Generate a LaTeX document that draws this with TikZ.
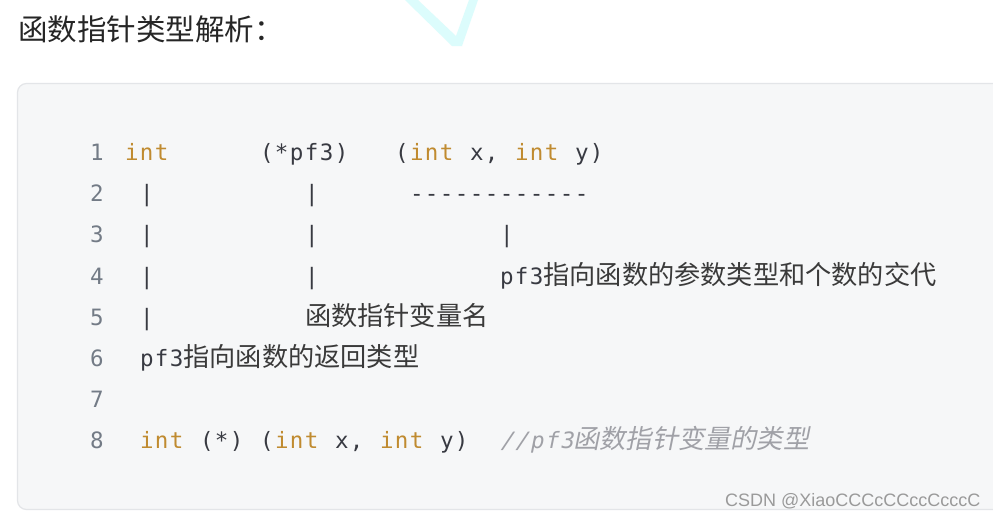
\documentclass[tikz,border=0pt]{standalone}
\usepackage{fontspec}
\setmainfont{Liberation Sans}
\newfontfamily\codefont{DejaVu Sans Mono}[LetterSpace=6.4,Ligatures=TeXOff]
\newfontfamily\numfont{DejaVu Sans Mono}[Ligatures=TeXOff]
\newfontfamily\codeit{DejaVu Sans Mono}[FakeSlant=0.2,LetterSpace=6.4,Ligatures=TeXOff]
\newfontfamily\cjk{Noto Sans CJK SC}
\newfontfamily\cjkit{Noto Sans CJK SC}[FakeSlant=0.2]
\definecolor{kwcol}{HTML}{C08B30}
\definecolor{txtcol}{HTML}{383A42}
\definecolor{numcol}{HTML}{737B86}
\definecolor{cmtcol}{HTML}{A0A1A7}
\definecolor{zhcol}{HTML}{3A3A3A}
\definecolor{boxfill}{HTML}{F6F7F8}
\definecolor{boxline}{HTML}{E3E5E8}
\definecolor{wmcol}{HTML}{9A9A9A}
\definecolor{chevcol}{HTML}{DCFCFC}
\definecolor{titlecol}{HTML}{262626}
\newcommand\zh[1]{{\cjk\fontsize{26.2}{30}\selectfont\color{zhcol}#1}}
\newcommand\zhit[1]{{\cjkit\fontsize{26.2}{30}\selectfont\color{cmtcol}#1}}
\newcommand\dsh{\makebox[15pt][l]{-}}
\tikzset{
  code/.style={anchor=base west, inner sep=0pt, outer sep=0pt,
    font=\codefont\fontsize{22.5}{27}\selectfont, text=txtcol},
  kw/.style={code, text=kwcol},
  lnum/.style={anchor=base west, inner sep=0pt, outer sep=0pt,
    font=\numfont\fontsize{22.5}{27}\selectfont, text=numcol},
  cmt/.style={code, font=\codeit\fontsize{22.5}{27}\selectfont, text=cmtcol},
}
\begin{document}
\begin{tikzpicture}[x=1pt,y=-1pt]
\useasboundingbox (0,0) rectangle (993,520);
\fill[white] (0,0) rectangle (993,520);
% faint cyan chevron at the top
\fill[chevcol] (405,0) -- (418,0) -- (456,36) -- (469,0) -- (478,0) -- (462,46) -- (452,46) -- cycle;
% title
\node[anchor=base west, inner sep=0pt, text=titlecol,
  font=\cjk\fontsize{29.5}{34}\selectfont] (title) at (18,40) {函数指针类型解析：};
% code box
\draw[boxline, fill=boxfill, line width=1.2pt, rounded corners=9pt]
  (17.5,83.5) rectangle (1012,509.5);
% line numbers
\foreach \i/\y in {1/160.7,2/201.8,3/242.9,4/284.0,5/325.1,6/366.2,7/407.3,8/448.4}
  \node[lnum] (n\i) at (90,\y) {\i};
% line 1
\node[kw]   (a1) at (125,160.7) {int};
\node[code] (b1) at (260,160.7) {(*pf3)};
\node[code] (c1) at (395,160.7) {(};
\node[kw]   (d1) at (410,160.7) {int};
\node[code] (e1) at (470,160.7) {x,};
\node[kw]   (f1) at (515,160.7) {int};
\node[code] (g1) at (575,160.7) {y)};
% line 2
\node[code] (a2) at (140,201.8) {|};
\node[code] (b2) at (305,201.8) {|};
\node[code] (c2) at (410,201.8) {\dsh\dsh\dsh\dsh\dsh\dsh\dsh\dsh\dsh\dsh\dsh\dsh};
% line 3
\node[code] (a3) at (140,242.9) {|};
\node[code] (b3) at (305,242.9) {|};
\node[code] (c3) at (500,242.9) {|};
% line 4
\node[code] (a4) at (140,284.0) {|};
\node[code] (b4) at (305,284.0) {|};
\node[code] (c4) at (500,284.0) {pf3\zh{指向函数的参数类型和个数的交代}};
% line 5
\node[code] (a5) at (140,325.1) {|};
\node[code] (b5) at (305,325.1) {\zh{函数指针变量名}};
% line 6
\node[code] (a6) at (140,366.2) {pf3\zh{指向函数的返回类型}};
% line 8
\node[kw]   (a8) at (140,448.4) {int};
\node[code] (b8) at (200,448.4) {(*)};
\node[code] (c8) at (260,448.4) {(};
\node[kw]   (d8) at (275,448.4) {int};
\node[code] (e8) at (335,448.4) {x,};
\node[kw]   (f8) at (380,448.4) {int};
\node[code] (g8) at (440,448.4) {y)};
\node[cmt]  (h8) at (500,448.4) {//pf3\zhit{函数指针变量的类型}};
% watermark
\node[anchor=base west, inner sep=0pt, text=wmcol,
  font=\fontsize{18}{21}\selectfont] (wm) at (725,506) {CSDN @XiaoCCCcCCccCcccC};
\end{tikzpicture}
\end{document}
